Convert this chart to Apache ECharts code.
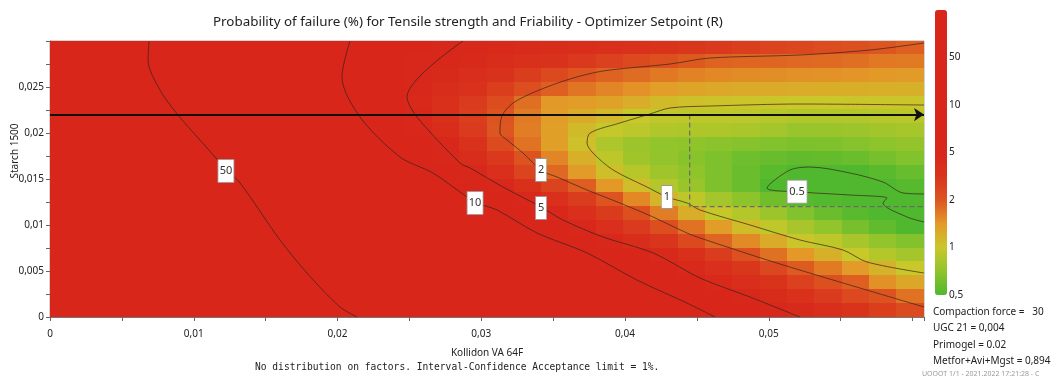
<!DOCTYPE html>
<html>
<head>
<meta charset="utf-8">
<script src="https://cdn.jsdelivr.net/npm/echarts/dist/echarts.min.js"></script>
<style>
  html, body { margin: 0; padding: 0; background: #fff; }
  #chart { width: 1054px; height: 379px; }
</style>
</head>
<body>
<div id="chart"></div>
<script>
/* global echarts */
// axis ranges of the plot (Kollidon VA 64F on x, Starch 1500 on y)
const X_MAX = 0.0608;
const Y_MAX = 0.03;

// probability of failure (%) on a 32 x 20 cell grid, top row first
const failureGrid = [
  [75, 68, 58, 50, 41, 33, 26, 21, 17, 14, 11, 9.0, 7.6, 6.4, 5.4, 4.8, 4.6, 4.3, 4.0, 3.8, 3.6, 3.4, 3.2, 3.0, 2.9, 2.7, 2.5, 2.4, 2.25, 2.13, 2.0, 1.9],
  [75, 68, 58, 50, 41, 33, 26, 21, 17, 13.5, 11, 8.7, 7.2, 5.9, 5.0, 4.4, 4.0, 3.6, 3.25, 2.9, 2.63, 2.35, 2.13, 1.96, 1.87, 1.85, 1.84, 1.82, 1.79, 1.75, 1.68, 1.65],
  [72, 65, 57, 51, 43, 34, 27, 20.5, 16.8, 13.4, 10.5, 8.3, 6.7, 5.4, 4.5, 3.8, 3.25, 2.76, 2.35, 2.0, 1.86, 1.78, 1.68, 1.59, 1.54, 1.52, 1.5, 1.48, 1.47, 1.45, 1.42, 1.4],
  [70, 64, 57, 52, 45, 36, 28, 22, 17.5, 14, 11, 8.5, 6.4, 4.9, 3.96, 3.28, 2.71, 2.2, 1.9, 1.7, 1.57, 1.47, 1.37, 1.3, 1.27, 1.25, 1.24, 1.23, 1.22, 1.22, 1.21, 1.2],
  [68, 62, 56, 52, 48, 38, 30, 23, 18.5, 14.7, 11.6, 8.8, 6.3, 4.6, 3.6, 2.86, 2.25, 1.75, 1.42, 1.38, 1.33, 1.23, 1.11, 1.06, 1.04, 1.03, 1.02, 1.01, 1.01, 1.02, 1.02, 1.02],
  [66, 60, 55, 52, 51, 42, 33, 25.5, 20, 15.9, 12.3, 9.5, 6.9, 4.9, 3.6, 2.73, 2.04, 1.66, 1.38, 1.24, 1.12, 1.0, 0.95, 0.93, 0.93, 0.92, 0.9, 0.87, 0.87, 0.88, 0.9, 0.91],
  [64, 59, 55, 52, 51, 47, 37, 28.5, 22.6, 17.6, 13.8, 10.8, 8.1, 5.7, 4.0, 2.86, 2.0, 1.64, 1.35, 1.11, 0.97, 0.92, 0.86, 0.85, 0.85, 0.83, 0.8, 0.74, 0.75, 0.77, 0.79, 0.81],
  [63, 58, 54, 51.5, 51, 50, 41, 32, 25.5, 20, 15.9, 12.3, 9.7, 6.8, 4.8, 3.4, 2.33, 1.73, 1.35, 1.06, 0.84, 0.77, 0.72, 0.71, 0.69, 0.67, 0.66, 0.64, 0.65, 0.67, 0.7, 0.73],
  [62, 57, 54, 52, 51, 50.5, 45.5, 35.6, 28.5, 22.4, 17.5, 14, 11, 8.1, 5.7, 4.0, 2.9, 2.05, 1.57, 1.21, 0.93, 0.78, 0.73, 0.68, 0.64, 0.59, 0.57, 0.55, 0.56, 0.58, 0.62, 0.66],
  [61, 57, 54, 52, 51, 50.5, 50.2, 40.5, 33, 26.3, 21.3, 17, 13.8, 11, 8.0, 5.3, 3.66, 2.5, 1.82, 1.4, 1.07, 0.9, 0.78, 0.71, 0.65, 0.58, 0.53, 0.48, 0.46, 0.49, 0.53, 0.57],
  [60, 56, 53.5, 52, 51, 50.5, 50.2, 45.5, 36.5, 29.6, 24, 19.7, 16.3, 12.9, 10.6, 7.6, 5.05, 3.6, 2.6, 1.92, 1.43, 1.09, 0.88, 0.75, 0.65, 0.58, 0.5, 0.45, 0.44, 0.44, 0.47, 0.52],
  [59, 56, 53.5, 52, 51, 50.5, 50.2, 50, 40, 33, 26.8, 22, 18, 14.8, 12.1, 9.9, 7.0, 4.95, 3.7, 2.77, 2.03, 1.54, 1.16, 0.93, 0.8, 0.7, 0.6, 0.52, 0.51, 0.5, 0.48, 0.46],
  [58, 55, 53, 52, 51, 50.5, 50.3, 50.1, 43, 36, 30, 25.4, 20.9, 17.5, 14.7, 12.3, 10.2, 7.1, 4.9, 3.7, 2.83, 2.17, 1.64, 1.22, 0.98, 0.88, 0.76, 0.66, 0.58, 0.53, 0.5, 0.46],
  [57, 55, 53, 52, 51, 50.5, 50.3, 50.1, 47, 39.5, 33, 28, 23, 19.7, 16.8, 14, 11.9, 9.9, 6.9, 4.9, 3.7, 2.86, 2.2, 1.72, 1.38, 1.1, 0.94, 0.82, 0.72, 0.62, 0.55, 0.5],
  [56, 54.5, 53, 52, 51.5, 51, 50.5, 50.2, 50, 43, 36, 31, 26.3, 22.4, 19, 16.2, 14, 11.9, 10.1, 7.4, 5.3, 4.0, 3.1, 2.36, 1.85, 1.53, 1.25, 1.02, 0.93, 0.82, 0.72, 0.66],
  [55, 54, 53, 52, 51.5, 51, 50.7, 50.4, 50.2, 45.5, 39, 34, 29.4, 25.4, 22, 19, 16.2, 14, 12, 10.5, 8.2, 6.2, 4.7, 3.6, 2.76, 2.1, 1.74, 1.43, 1.2, 1.0, 0.88, 0.8],
  [55, 54, 53, 52, 51.5, 51, 50.7, 50.5, 50.3, 50, 42, 36.5, 31.5, 27.5, 24, 21, 18, 15.9, 13.8, 12, 10.3, 8.1, 6.1, 4.7, 3.7, 3.0, 2.4, 1.95, 1.65, 1.4, 1.18, 1.0],
  [54, 53.5, 53, 52, 51.5, 51, 50.8, 50.6, 50.4, 50.2, 45.5, 39, 34.5, 29.6, 26.3, 23.1, 20, 17.5, 15.4, 13.4, 11.7, 10.1, 8.0, 6.0, 4.7, 3.9, 3.2, 2.63, 2.17, 1.9, 1.48, 1.28],
  [54, 53.5, 53, 52.5, 52, 51.5, 51, 50.8, 50.5, 50.3, 50.1, 42, 37, 33, 29, 25.4, 22.4, 19.7, 17.3, 15.2, 13.4, 11.7, 10.3, 8.3, 6.5, 5.0, 4.1, 3.4, 2.86, 2.37, 2.05, 1.73],
  [53.5, 53, 52.5, 52, 51.5, 51, 50.8, 50.5, 50.3, 50.1, 50, 46, 40.5, 35.6, 31.5, 28, 24.4, 22, 19.4, 17, 15.2, 13.4, 11.7, 10.4, 8.6, 6.8, 5.4, 4.5, 3.9, 3.2, 2.73, 2.3]
];

// contour lines [Kollidon, Starch]
const contour50 = [[0.00689, 0.03], [0.00682, 0.02793], [0.00765, 0.02467], [0.0089, 0.02196], [0.01043, 0.01924], [0.01224, 0.01609], [0.01322, 0.01457], [0.016, 0.00837], [0.01788, 0.00478], [0.02017, 0.00109], [0.02136, 0]];
const contour10 = [[0.02087, 0.03], [0.02031, 0.02609], [0.02157, 0.02174], [0.02435, 0.01739], [0.02664, 0.01565], [0.02957, 0.0125], [0.0311, 0.01163], [0.03388, 0.00913], [0.03736, 0.00696], [0.04083, 0.00402], [0.04431, 0.00152], [0.04626, 0]];
const contour5 = [[0.02873, 0.03], [0.02483, 0.02391], [0.02553, 0.02174], [0.02852, 0.01674], [0.02922, 0.0162], [0.03151, 0.01413], [0.03416, 0.01196], [0.03569, 0.01054], [0.03847, 0.0087], [0.04195, 0.00696], [0.04522, 0.00424], [0.0487, 0.00217], [0.05217, 0]];
const contour2 = [[0.0608, 0.02978], [0.05704, 0.02902], [0.05217, 0.02848], [0.04591, 0.02815], [0.04313, 0.0275], [0.03847, 0.02674], [0.03617, 0.02587], [0.03388, 0.02457], [0.03221, 0.02326], [0.03144, 0.02185], [0.0313, 0.02], [0.03179, 0.01924], [0.0329, 0.01783], [0.03423, 0.01587], [0.03527, 0.01522], [0.03736, 0.0138], [0.03965, 0.01239], [0.04195, 0.01087], [0.04431, 0.00913], [0.04522, 0.00859], [0.04988, 0.0062], [0.05447, 0.00402], [0.0608, 0.00109]];
const contour1 = [[0.0608, 0.02304], [0.05217, 0.02315], [0.04591, 0.02293], [0.04313, 0.02272], [0.04174, 0.02207], [0.03965, 0.02109], [0.03757, 0.02], [0.03736, 0.01891], [0.03777, 0.01783], [0.03917, 0.01598], [0.04153, 0.01413], [0.04292, 0.01304], [0.04431, 0.01239], [0.04522, 0.01163], [0.0487, 0.01], [0.05217, 0.00837], [0.05517, 0.00728], [0.05683, 0.00598], [0.0608, 0.00478]];
const contour05 = [[0.0608, 0.01337], [0.05934, 0.01348], [0.05795, 0.01467], [0.05565, 0.01565], [0.05287, 0.0163], [0.05148, 0.01598], [0.04988, 0.01402], [0.05217, 0.01359], [0.05565, 0.01326], [0.05823, 0.01293], [0.05795, 0.01239], [0.05962, 0.01087], [0.0608, 0.01033]];

// contour label boxes
const contourLabels = ['50', '10', '5', '2', '1', '0.5'];
const contourLabelPos = [[0.01224, 0.01587], [0.02957, 0.01239], [0.03416, 0.01185], [0.03416, 0.01598], [0.04292, 0.01304], [0.05197, 0.01362]];

// optimizer setpoint
const arrowStarch = 0.022;
const setpointKollidon = 0.0445;
const setpointStarch = 0.012;

// colour scale levels
const levelStops = [0.5, 1, 2, 5, 10, 50, 100];
const colorbarLabels = ['0,5', '1', '2', '5', '10', '50', ''];

const fixedFactors = [
  'Compaction force =   30',
  'UGC 21 = 0,004',
  'Primogel = 0.02',
  'Metfor+Avi+Mgst = 0,894'
];

const FONT = 'Noto Sans';

function toLevel(v) {
  if (v <= levelStops[0]) return 0;
  for (let k = 1; k < levelStops.length; k++) {
    if (v <= levelStops[k]) {
      return k - 1 + Math.log(v / levelStops[k - 1]) / Math.log(levelStops[k] / levelStops[k - 1]);
    }
  }
  return levelStops.length - 1;
}

function commaNum(v) {
  if (Math.abs(v) < 1e-12) return '0';
  return String(+v.toFixed(4)).replace('.', ',');
}

const nCols = failureGrid[0].length;
const nRows = failureGrid.length;
const cellX = X_MAX / nCols;
const cellY = Y_MAX / nRows;

// [left edge, bottom edge, probability, colour level]
const cellData = [];
failureGrid.forEach((row, r) => {
  row.forEach((p, c) => {
    cellData.push([c * cellX, (nRows - 1 - r) * cellY, p, toLevel(p)]);
  });
});

function renderCell(params, api) {
  const x0 = api.value(0);
  const y0 = api.value(1);
  const a = api.coord([x0, y0 + cellY]);
  const b = api.coord([x0 + cellX, y0]);
  return {
    type: 'rect',
    shape: {
      x: Math.floor(a[0]),
      y: Math.floor(a[1]),
      width: Math.ceil(b[0] - a[0]) + 1,
      height: Math.ceil(b[1] - a[1]) + 1
    },
    style: { fill: api.visual('color') }
  };
}

function contourSeries(points) {
  return {
    type: 'line',
    data: points,
    symbol: 'none',
    smooth: 0.3,
    silent: true,
    z: 3,
    lineStyle: { color: 'rgba(55,35,25,0.7)', width: 1 }
  };
}

const chart = echarts.init(document.getElementById('chart'));

const option = {
  animation: false,
  backgroundColor: '#fff',
  title: {
    text: 'Probability of failure (%) for Tensile strength and Friability - Optimizer Setpoint (R)',
    left: 208,
    top: 11,
    textStyle: { fontFamily: FONT, fontSize: 13.4, fontWeight: 'normal', color: '#222' }
  },
  grid: [
    { left: 50, top: 41, width: 874, height: 276, show: true, borderColor: '#aaa', borderWidth: 1, backgroundColor: 'transparent' },
    { left: 935, top: 10, width: 12, height: 285 }
  ],
  xAxis: [
    {
      type: 'value', gridIndex: 0, min: 0, max: X_MAX, interval: 0.005, position: 'bottom',
      axisLine: { show: true, onZero: false, lineStyle: { color: '#777' } },
      axisTick: { show: true, length: 4, lineStyle: { color: '#666' } },
      splitLine: { show: false },
      axisLabel: {
        color: '#222', fontFamily: FONT, fontSize: 10, margin: 12,
        formatter: v => {
          const k = Math.round(v / 0.005);
          if (Math.abs(v - k * 0.005) > 1e-9 || k % 2 || v > 0.0595) return '';
          return commaNum(v);
        }
      },
      name: 'Kollidon VA 64F',
      nameLocation: 'middle',
      nameGap: 31,
      nameTextStyle: { fontFamily: FONT, fontSize: 10, color: '#222' }
    },
    { type: 'value', gridIndex: 1, min: 0, max: 1, show: false }
  ],
  yAxis: [
    {
      type: 'value', gridIndex: 0, min: 0, max: Y_MAX, interval: 0.0025, position: 'left',
      axisLine: { show: true, onZero: false, lineStyle: { color: '#777' } },
      axisTick: { show: true, length: 4, lineStyle: { color: '#666' } },
      splitLine: { show: false },
      axisLabel: {
        color: '#222', fontFamily: FONT, fontSize: 10, margin: 6,
        formatter: v => {
          const k = Math.round(v / 0.0025);
          if (k % 2 || v > 0.0295) return '';
          return commaNum(v);
        }
      }
    },
    {
      type: 'value', gridIndex: 1, min: 0, max: 6, interval: 1, position: 'right',
      axisLine: { show: false },
      axisTick: { show: false },
      splitLine: { show: false },
      axisLabel: {
        color: '#222', fontFamily: FONT, fontSize: 10, margin: 2,
        formatter: v => colorbarLabels[Math.round(v)]
      }
    }
  ],
  visualMap: {
    type: 'continuous',
    seriesIndex: 0,
    dimension: 3,
    min: 0,
    max: 6,
    left: 935,
    top: 10,
    padding: 0,
    itemWidth: 12,
    itemHeight: 285,
    calculable: false,
    text: null,
    inRange: {
      color: ['#4fb82e', '#8fc42b', '#c9c82a', '#e39a28', '#dd5520', '#d9331c',
        '#d8271b', '#d8261b', '#d8261b', '#d8261b', '#d8261b', '#d8261b', '#d8261b']
    }
  },
  graphic: [
    {
      type: 'text', x: 15, y: 151, rotation: Math.PI / 2,
      style: { text: 'Starch 1500', fontFamily: FONT, fontSize: 10, fill: '#222', align: 'center', verticalAlign: 'middle' }
    },
    {
      type: 'text', left: 255, top: 362,
      style: { text: 'No distribution on factors. Interval-Confidence Acceptance limit = 1%.', fontFamily: 'DejaVu Sans Mono', fontSize: 9.6, fill: '#222' }
    },
    ...fixedFactors.map((t, i) => ({
      type: 'text', left: 933, top: 307 + i * 16.5,
      style: { text: t, fontFamily: FONT, fontSize: 10, fill: '#222' }
    })),
    {
      type: 'text', left: 922, top: 370,
      style: { text: 'UOOOT 1/1 - 2021.2022 17:21:28 - C', fontFamily: FONT, fontSize: 7, fill: '#999' }
    }
  ],
  series: [
    {
      type: 'custom',
      data: cellData,
      encode: { x: 0, y: 1 },
      renderItem: renderCell,
      clip: true,
      silent: true,
      z: 1
    },
    contourSeries(contour50),
    contourSeries(contour10),
    contourSeries(contour5),
    contourSeries(contour2),
    contourSeries(contour1),
    contourSeries(contour05),
    {
      type: 'line',
      data: [[setpointKollidon, arrowStarch], [setpointKollidon, setpointStarch], [X_MAX, setpointStarch]],
      symbol: 'none',
      silent: true,
      z: 4,
      lineStyle: { color: '#6b6b6b', width: 1.2, type: [5, 3] }
    },
    {
      type: 'line',
      data: [],
      silent: true,
      z: 5,
      markLine: {
        silent: true,
        symbol: ['none', 'arrow'],
        symbolSize: 10,
        label: { show: false },
        lineStyle: { color: '#111', width: 2, type: 'solid' },
        data: [[{ coord: [0, arrowStarch] }, { coord: [X_MAX, arrowStarch] }]]
      }
    },
    {
      type: 'scatter',
      silent: true,
      z: 6,
      symbol: 'rect',
      data: contourLabels.map((t, i) => ({
        name: t,
        value: contourLabelPos[i],
        symbolSize: [t.length === 1 ? 11 : t.length === 2 ? 16 : 20, 23]
      })),
      itemStyle: { color: '#fff', borderColor: '#999', borderWidth: 0.8, opacity: 1 },
      label: { show: true, position: 'inside', formatter: '{b}', color: '#333', fontFamily: FONT, fontSize: 11 }
    }
  ]
};

chart.setOption(option);
</script>
</body>
</html>
